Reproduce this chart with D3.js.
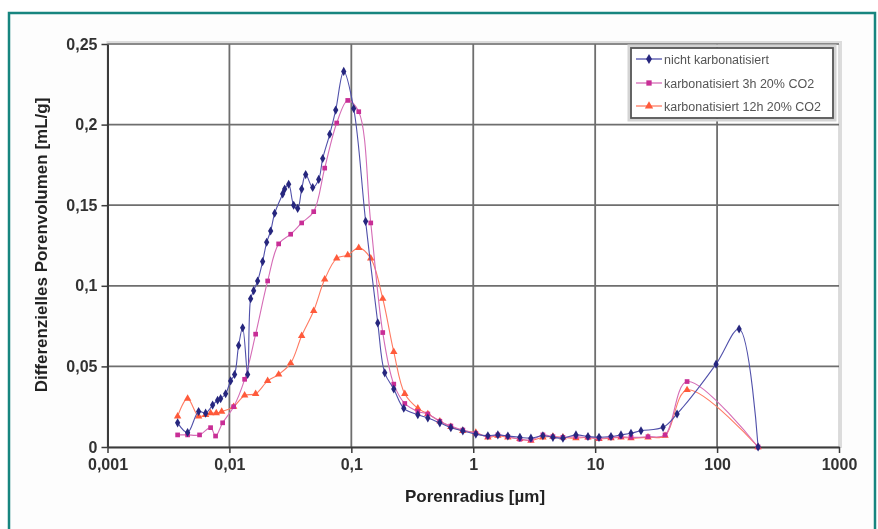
<!DOCTYPE html>
<html>
<head>
<meta charset="utf-8">
<script src="https://cdn.jsdelivr.net/npm/d3@7"></script>
<style>
  html, body { margin: 0; padding: 0; background: #ffffff; }
  svg { display: block; }
  text { font-family: "Liberation Sans", Arial, sans-serif; }
</style>
</head>
<body>
<svg id="chart" width="878" height="529"></svg>
<script>
// Pore-size distributions: [pore radius in µm, differential pore volume in mL/g]
const nichtKarbonatisiert = [
  [0.00376, 0.015], [0.00454, 0.009], [0.00559, 0.022], [0.00638, 0.021], [0.00728, 0.026],
  [0.0080, 0.029], [0.00847, 0.030], [0.00931, 0.033], [0.01023, 0.041], [0.01103, 0.045],
  [0.0119, 0.063], [0.01284, 0.074], [0.01411, 0.045], [0.01493, 0.092], [0.0158, 0.097],
  [0.01704, 0.103], [0.01873, 0.115], [0.02021, 0.127], [0.02179, 0.134], [0.0235, 0.145],
  [0.02734, 0.157], [0.02839, 0.160], [0.03062, 0.163], [0.03366, 0.150], [0.0363, 0.148],
  [0.03915, 0.160], [0.04223, 0.169], [0.04821, 0.161], [0.054, 0.166], [0.05824, 0.179],
  [0.06648, 0.194], [0.07446, 0.209], [0.08662, 0.233], [0.1046, 0.210], [0.131, 0.140],
  [0.1647, 0.077], [0.188, 0.046], [0.2229, 0.036], [0.2693, 0.024], [0.351, 0.020],
  [0.424, 0.018], [0.532, 0.015], [0.655, 0.012], [0.8215, 0.010], [1.05, 0.008],
  [1.318, 0.007], [1.592, 0.0075], [1.923, 0.0068], [2.413, 0.006], [2.971, 0.0055],
  [3.727, 0.007], [4.503, 0.006], [5.44, 0.0055], [6.957, 0.0075], [8.729, 0.0065],
  [10.75, 0.006], [13.48, 0.0065], [16.28, 0.0075], [19.67, 0.0085], [23.77, 0.0101],
  [36.05, 0.0122], [46.96, 0.0205], [98.1, 0.0514], [151.6, 0.0732], [217, 0]
];

const karbonatisiert3h = [
  [0.00376, 0.0075], [0.00454, 0.0075], [0.00569, 0.0075], [0.00701, 0.012], [0.0077, 0.0068],
  [0.0088, 0.015], [0.01083, 0.025], [0.01333, 0.042], [0.01641, 0.070], [0.02059, 0.103],
  [0.02534, 0.126], [0.0318, 0.132], [0.03915, 0.139], [0.04913, 0.146], [0.06048, 0.173],
  [0.07587, 0.201], [0.09342, 0.215], [0.115, 0.208], [0.1443, 0.139], [0.181, 0.071],
  [0.2229, 0.039], [0.2744, 0.027], [0.351, 0.022], [0.424, 0.0205], [0.532, 0.016],
  [0.655, 0.013], [0.8215, 0.0105], [1.05, 0.0085], [1.318, 0.0064], [1.592, 0.0075],
  [1.923, 0.0064], [2.413, 0.0048], [2.971, 0.0044], [3.727, 0.0075], [4.503, 0.0064],
  [5.44, 0.006], [6.957, 0.0064], [8.729, 0.006], [10.75, 0.0054], [13.48, 0.006],
  [16.28, 0.0064], [19.67, 0.006], [27.13, 0.0064], [37.43, 0.0075], [56.74, 0.0406],
  [217, 0]
];

const karbonatisiert12h = [
  [0.00376, 0.019], [0.00454, 0.030], [0.00559, 0.019], [0.00638, 0.020], [0.00701, 0.021],
  [0.0078, 0.021], [0.00864, 0.022], [0.01083, 0.025], [0.01333, 0.032], [0.01641, 0.033],
  [0.02059, 0.041], [0.02534, 0.045], [0.0318, 0.052], [0.03915, 0.069], [0.04913, 0.0845],
  [0.06048, 0.104], [0.07587, 0.117], [0.09342, 0.119], [0.115, 0.1235], [0.1443, 0.117],
  [0.181, 0.092], [0.2229, 0.059], [0.2744, 0.033], [0.351, 0.024], [0.424, 0.0205],
  [0.532, 0.016], [0.655, 0.0125], [0.8215, 0.010], [1.05, 0.009], [1.318, 0.006],
  [1.592, 0.007], [1.923, 0.006], [2.413, 0.005], [2.971, 0.004], [3.727, 0.006],
  [4.503, 0.0065], [5.44, 0.006], [6.957, 0.0055], [8.729, 0.006], [10.75, 0.005],
  [13.48, 0.0055], [16.28, 0.006], [19.67, 0.0055], [27.13, 0.006], [37.43, 0.007],
  [56.74, 0.0354], [217, 0]
];

const seriesNames = ["nicht karbonatisiert", "karbonatisiert 3h 20% CO2", "karbonatisiert 12h 20% CO2"];
const xTickValues = [0.001, 0.01, 0.1, 1, 10, 100, 1000];
const xTickLabels = ["0,001", "0,01", "0,1", "1", "10", "100", "1000"];
const yTickValues = [0, 0.05, 0.1, 0.15, 0.2, 0.25];
const yTickLabels = ["0", "0,05", "0,1", "0,15", "0,2", "0,25"];
const xTitle = "Porenradius [µm]";
const yTitle = "Differenzielles Porenvolumen [mL/g]";

const svg = d3.select("#chart");

// outer frame
svg.append("rect").attr("x", 9).attr("y", 13).attr("width", 866).attr("height", 530)
  .attr("fill", "#fdfdfd").attr("stroke", "#17857f").attr("stroke-width", 2.5);

const defs = svg.append("defs");
defs.append("clipPath").attr("id", "frameClip")
  .append("rect").attr("x", 10).attr("y", 14).attr("width", 851).attr("height", 520);
defs.append("filter").attr("id", "soft").append("feGaussianBlur").attr("stdDeviation", 0.6);

const root = svg.append("g").attr("clip-path", "url(#frameClip)").attr("filter", "url(#soft)");

const x = d3.scaleLog().domain([0.001, 1000]).range([107.5, 839]);
const y = d3.scaleLinear().domain([0, 0.25]).range([447, 44]);

// plot area
root.append("rect").attr("x", x(0.001)).attr("y", y(0.25) - 2)
  .attr("width", x(1000) - x(0.001) + 2).attr("height", y(0) - y(0.25) + 2)
  .attr("fill", "none").attr("stroke", "#dcdcdc").attr("stroke-width", 2);
root.append("rect").attr("x", x(0.001)).attr("y", y(0.25))
  .attr("width", x(1000) - x(0.001)).attr("height", y(0) - y(0.25))
  .attr("fill", "#ffffff").attr("stroke", "#b8b8b8").attr("stroke-width", 1);

// gridlines
const grid = root.append("g");
grid.selectAll(".hg").data(yTickValues.filter(v => v > 0)).join("line")
  .attr("x1", x(0.001)).attr("x2", x(1000))
  .attr("y1", d => y(d)).attr("y2", d => y(d))
  .attr("stroke", d => d === 0.25 ? "#8a8a8a" : "#6e6e6e").attr("stroke-width", 1.8);
grid.selectAll(".vg").data(xTickValues.slice(1, -1)).join("line")
  .attr("x1", d => x(d)).attr("x2", d => x(d))
  .attr("y1", y(0.25)).attr("y2", y(0))
  .attr("stroke", "#6e6e6e").attr("stroke-width", 1.8);

// axes
const xAxis = d3.axisBottom(x).tickValues(xTickValues)
  .tickFormat((d, i) => xTickLabels[i]).tickSize(6).tickSizeOuter(0).tickPadding(6);
const gx = root.append("g").attr("transform", `translate(0,${y(0)})`).call(xAxis);
const yAxis = d3.axisLeft(y).tickValues(yTickValues)
  .tickFormat((d, i) => yTickLabels[i]).tickSize(6).tickSizeOuter(0).tickPadding(4);
const gy = root.append("g").attr("transform", `translate(${x(0.001)},0)`).call(yAxis);

[gx, gy].forEach(g => {
  g.select(".domain").attr("stroke", "#3a3a3a").attr("stroke-width", 2);
  g.selectAll(".tick line").attr("stroke", "#3a3a3a").attr("stroke-width", 1.5);
  g.selectAll(".tick text").attr("fill", "#333333")
    .style("font-size", "16px").style("font-weight", "bold")
    .style("font-family", "'Liberation Sans', Arial, sans-serif");
});

// axis titles
root.append("text").attr("x", 475).attr("y", 502).attr("text-anchor", "middle")
  .attr("fill", "#222222").style("font-size", "17px").style("font-weight", "bold")
  .text(xTitle);
root.append("text").attr("transform", "translate(47,245) rotate(-90)").attr("text-anchor", "middle")
  .attr("fill", "#222222").style("font-size", "17px").style("font-weight", "bold")
  .text(yTitle);

// series
const styles = [
  { data: nichtKarbonatisiert, line: "#5050aa", mark: "#27277e", shape: d3.symbolDiamond, size: 24 },
  { data: karbonatisiert3h, line: "#d56cb6", mark: "#c82e96", shape: d3.symbolSquare, size: 22 },
  { data: karbonatisiert12h, line: "#ff7a62", mark: "#ff5a3a", shape: d3.symbolTriangle, size: 24 }
];

const lineGen = d3.line().x(d => x(d[0])).y(d => y(d[1])).curve(d3.curveCatmullRom.alpha(0.5));

const seriesG = root.append("g");
styles.slice().reverse().forEach(s => {
  const g = seriesG.append("g");
  g.append("path").datum(s.data).attr("d", lineGen)
    .attr("fill", "none").attr("stroke", s.line).attr("stroke-width", 1.1);
  g.selectAll("path.m").data(s.data).join("path").attr("class", "m")
    .attr("transform", d => `translate(${x(d[0])},${y(d[1])})`)
    .attr("d", d3.symbol().type(s.shape).size(s.size))
    .attr("fill", s.mark);
});

// legend
const lg = root.append("g");
lg.append("rect").attr("x", 629).attr("y", 46).attr("width", 206).attr("height", 74)
  .attr("fill", "none").attr("stroke", "#d4d4d4").attr("stroke-width", 3);
lg.append("rect").attr("x", 631).attr("y", 48).attr("width", 202).attr("height", 70)
  .attr("fill", "#ffffff").attr("stroke", "#555555").attr("stroke-width", 1.8);
const legendY = [59, 83, 106];
styles.forEach((s, i) => {
  const yy = legendY[i];
  lg.append("line").attr("x1", 636).attr("x2", 662).attr("y1", yy).attr("y2", yy)
    .attr("stroke", s.line).attr("stroke-width", 1.3);
  lg.append("path").attr("transform", `translate(649,${yy})`)
    .attr("d", d3.symbol().type(s.shape).size(s.size + 6)).attr("fill", s.mark);
  lg.append("text").attr("x", 664).attr("y", yy + 4.5)
    .attr("fill", "#555555").style("font-size", "12.5px")
    .text(seriesNames[i]);
});
</script>
</body>
</html>
